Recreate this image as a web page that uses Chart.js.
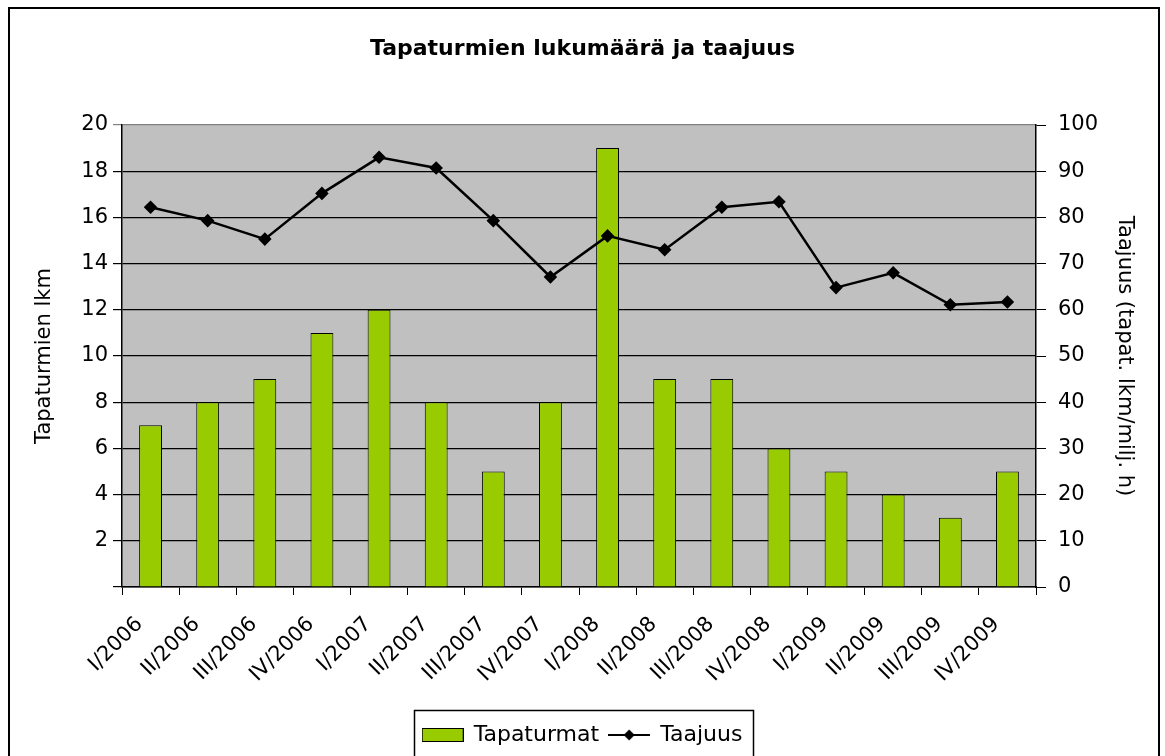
<!DOCTYPE html>
<html>
<head>
<meta charset="utf-8">
<script src="https://cdn.jsdelivr.net/npm/chart.js@4/dist/chart.umd.min.js"></script>
<style>
  body { margin: 0; background: #fff; }
  #wrap { width: 1165px; height: 756px; }
</style>
</head>
<body>
<div id="wrap"><canvas id="chart" width="1165" height="756"></canvas></div>
<script>
/* Data */
const categories = ['I/2006', 'II/2006', 'III/2006', 'IV/2006', 'I/2007', 'II/2007', 'III/2007', 'IV/2007',
  'I/2008', 'II/2008', 'III/2008', 'IV/2008', 'I/2009', 'II/2009', 'III/2009', 'IV/2009']
const tapaturmat = [7, 8, 9, 11, 12, 8, 5, 8, 19, 9, 9, 6, 5, 4, 3, 5]
const taajuus = [82.2, 79.3, 75.3, 85.2, 93.0, 90.7, 79.3, 67.1, 76.0, 73.0, 82.2, 83.4, 64.8, 68.0, 61.1, 61.7]
const leftTicks = [0, 2, 4, 6, 8, 10, 12, 14, 16, 18, 20]
const rightTicks = [0, 10, 20, 30, 40, 50, 60, 70, 80, 90, 100]

const green = '#99cc00'

Chart.defaults.font.family = '"DejaVu Sans", "Liberation Sans", Arial, sans-serif'
Chart.defaults.font.size = 21
Chart.defaults.color = '#000'

/* legend swatches */
function barSwatch() {
  const c = document.createElement('canvas')
  c.width = 42; c.height = 14
  const g = c.getContext('2d')
  g.fillStyle = green
  g.fillRect(1, 1, 40, 12)
  g.strokeStyle = '#000'
  g.lineWidth = 1
  g.strokeRect(0.5, 0.5, 41, 13)
  return c
}
function lineSwatch() {
  const c = document.createElement('canvas')
  c.width = 42; c.height = 14
  const g = c.getContext('2d')
  g.strokeStyle = '#000'
  g.lineWidth = 2
  g.beginPath(); g.moveTo(0, 7); g.lineTo(42, 7); g.stroke()
  g.fillStyle = '#000'
  g.beginPath(); g.moveTo(21, 1.5); g.lineTo(26.5, 7); g.lineTo(21, 12.5); g.lineTo(15.5, 7); g.closePath(); g.fill()
  return c
}

const chartBackground = {
  id: 'chartBackground',
  beforeDraw(chart) {
    const { ctx, chartArea } = chart
    ctx.save()
    ctx.fillStyle = '#fff'
    ctx.fillRect(0, 0, chart.width, chart.height)
    ctx.fillStyle = '#c0c0c0'
    ctx.fillRect(chartArea.left, chartArea.top, chartArea.right - chartArea.left, chartArea.bottom - chartArea.top)
    ctx.restore()
  },
  afterDraw(chart) {
    const { ctx } = chart
    ctx.save()
    ctx.strokeStyle = '#000'
    ctx.lineWidth = 2
    ctx.strokeRect(9, 8, 1150, 780)
    // legend frame
    const boxes = chart.legend.legendHitBoxes
    if (boxes && boxes.length) {
      const first = boxes[0]
      const last = boxes[boxes.length - 1]
      ctx.lineWidth = 1.5
      ctx.strokeRect(Math.round(first.left - 9) + 0.5, Math.round(first.top - 14) + 0.5,
        Math.round(last.left + last.width - first.left + 19), 80)
    }
    ctx.restore()
  }
}

new Chart(document.getElementById('chart'), {
  data: {
    labels: categories,
    datasets: [
      {
        type: 'bar',
        label: 'Tapaturmat',
        data: tapaturmat,
        yAxisID: 'y',
        backgroundColor: green,
        borderColor: '#000',
        borderWidth: 1,
        categoryPercentage: 1,
        barPercentage: 0.4,
        order: 1
      },
      {
        type: 'line',
        label: 'Taajuus',
        data: taajuus,
        yAxisID: 'y1',
        borderColor: '#000',
        borderWidth: 2.5,
        pointStyle: 'rectRot',
        pointRadius: 5,
        pointBackgroundColor: '#000',
        pointBorderColor: '#000',
        tension: 0,
        order: 0
      }
    ]
  },
  options: {
    responsive: false,
    animation: false,
    layout: { padding: { top: 0, left: 0, right: 0, bottom: 0 } },
    plugins: {
      title: {
        display: true,
        text: 'Tapaturmien lukumäärä ja taajuus',
        font: { size: 22, weight: 'bold' },
        color: '#000',
        padding: { top: 36, bottom: 62.6 }
      },
      legend: {
        position: 'bottom',
        labels: {
          usePointStyle: true,
          pointStyleWidth: 40,
          boxHeight: 13,
          padding: 10,
          color: '#000',
          font: { size: 22 },
          generateLabels() {
            return [
              { text: 'Tapaturmat', pointStyle: barSwatch(), fillStyle: green, strokeStyle: '#000', lineWidth: 0, datasetIndex: 0, fontColor: '#000' },
              { text: 'Taajuus', pointStyle: lineSwatch(), fillStyle: '#000', strokeStyle: '#000', lineWidth: 0, datasetIndex: 1, fontColor: '#000' }
            ]
          }
        }
      },
      tooltip: { enabled: false }
    },
    scales: {
      x: {
        type: 'category',
        offset: true,
        grid: { offset: true, drawOnChartArea: false, drawTicks: true, tickLength: 8, color: '#000', lineWidth: 1 },
        border: { color: '#000', width: 1.5 },
        ticks: { minRotation: 45, maxRotation: 45, autoSkip: false, padding: 17, labelOffset: -11 },
        afterFit(scale) { scale.height = 127 }
      },
      y: {
        position: 'left',
        min: 0,
        max: 20,
        afterBuildTicks(scale) { scale.ticks = leftTicks.map(v => ({ value: v })) },
        ticks: { padding: 5, callback: v => (v === 0 ? '' : v) },
        grid: {
          color: ctx => (ctx.tick && ctx.tick.value === 20 ? '#808080' : '#000'),
          lineWidth: 1.2,
          tickLength: 9,
          drawTicks: true
        },
        border: { color: '#000', width: 1.5 },
        title: { display: true, text: 'Tapaturmien lkm', font: { size: 21 }, padding: { top: 32, bottom: 0 } },
        afterFit(scale) { scale.width = 122 }
      },
      y1: {
        position: 'right',
        min: 0,
        max: 100,
        afterBuildTicks(scale) { scale.ticks = rightTicks.map(v => ({ value: v })) },
        ticks: { padding: 12 },
        grid: { drawOnChartArea: false, color: '#000', tickLength: 10 },
        border: { color: '#000', width: 1.5 },
        title: { display: true, text: 'Taajuus (tapat. lkm/milj. h)', font: { size: 21 }, padding: { top: 28, bottom: 0 } },
        afterFit(scale) { scale.width = 129 }
      }
    }
  },
  plugins: [chartBackground]
})
</script>
</body>
</html>
